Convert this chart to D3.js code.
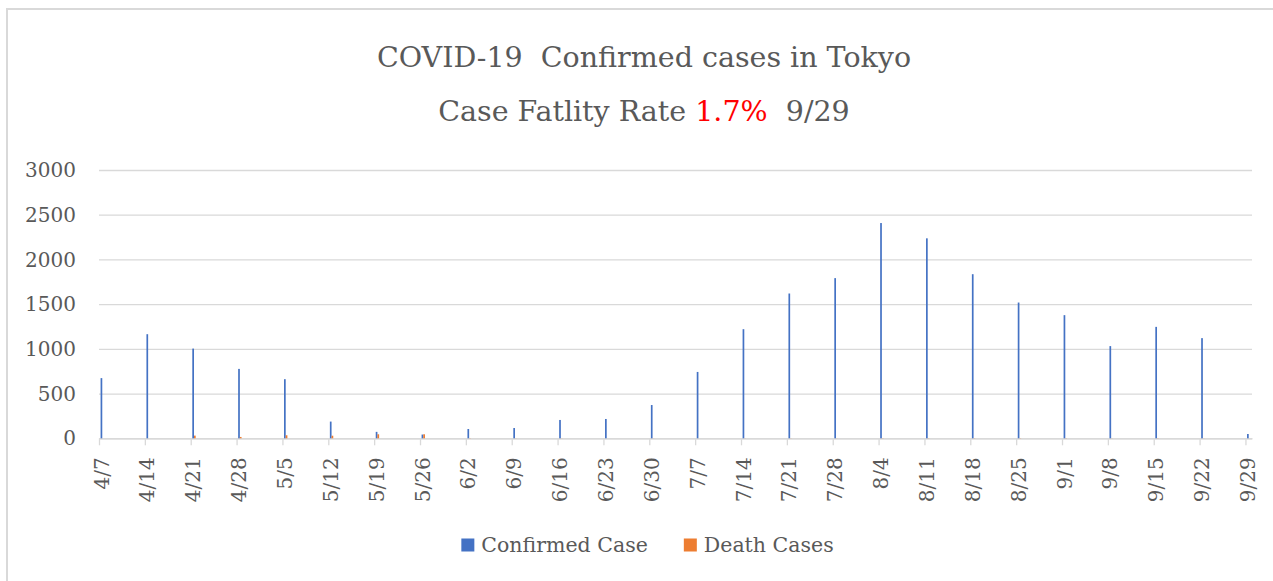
<!DOCTYPE html>
<html>
<head>
<meta charset="utf-8">
<script src="https://cdn.jsdelivr.net/npm/d3@7"></script>
<style>
  body { margin: 0; background: #fff; }
  text { font-family: "DejaVu Serif", "Liberation Serif", serif; fill: #595959; }
</style>
</head>
<body>
<svg id="chart" width="1273" height="581"></svg>
<script>
// weekly dates (2020)
var dates = ["4/7","4/14","4/21","4/28","5/5","5/12","5/19","5/26","6/2","6/9","6/16","6/23","6/30",
             "7/7","7/14","7/21","7/28","8/4","8/11","8/18","8/25","9/1","9/8","9/15","9/22","9/29"];
var confirmed = [673, 1164, 1003, 776, 661, 187, 72, 42, 104, 115, 205, 216, 372,
                 742, 1220, 1619, 1791, 2407, 2236, 1835, 1518, 1377, 1031, 1246, 1120, 48];
var deaths = [0, 0, 30, 15, 34, 29, 45, 45, 2, 1, 1, 0, 1,
              0, 1, 1, 1, 2, 2, 2, 2, 2, 1, 2, 1, 0];
var yTicks = [0, 500, 1000, 1500, 2000, 2500, 3000];
var seriesNames = ["Confirmed Case", "Death Cases"];
var colors = ["#4472C4", "#ED7D31"];

var svg = d3.select("#chart");

// outer frame
svg.append("rect")
    .attr("x", 7).attr("y", 9)
    .attr("width", 1300).attr("height", 600)
    .attr("fill", "none")
    .attr("stroke", "#d9d9d9")
    .attr("stroke-width", 2);

var margin = {top: 170, left: 99, right: 1252, bottom: 438.3};

function parseDay(s) {
    var p = s.split("/");
    return new Date(Date.UTC(2020, +p[0] - 1, +p[1]));
}
var days = dates.map(parseDay);
var endDay = d3.utcDay.offset(days[days.length - 1], 1);

// date axis, one slot per day
var x = d3.scaleUtc()
    .domain([days[0], endDay])
    .range([margin.left, margin.right]);

var y = d3.scaleLinear()
    .domain([0, 3000])
    .range([margin.bottom, margin.top]);

var dayW = x(d3.utcDay.offset(days[0], 1)) - x(days[0]);
var inner = d3.scaleBand()
    .domain([0, 1])
    .range([0, dayW])
    .paddingInner(0)
    .paddingOuter(0.93);

// gridlines + y labels
var yAxis = d3.axisLeft(y)
    .tickValues(yTicks)
    .tickSize(-(margin.right - margin.left))
    .tickPadding(23)
    .tickFormat(d3.format("d"));

var gy = svg.append("g")
    .attr("transform", "translate(" + margin.left + ",0)")
    .call(yAxis);
gy.select(".domain").remove();
gy.selectAll("line").attr("stroke", "#d9d9d9").attr("stroke-width", 1.3);
gy.selectAll("text")
    .style("font-family", "DejaVu Serif")
    .style("font-size", "20px")
    .attr("fill", "#595959")
    .attr("dy", "0.33em");

// x axis
var xAxis = d3.axisBottom(x)
    .tickValues(days)
    .tickSize(7)
    .tickSizeOuter(0)
    .tickFormat(function(d, i) { return dates[i]; });

var gx = svg.append("g")
    .attr("transform", "translate(0," + margin.bottom + ")")
    .call(xAxis);
gx.select(".domain").attr("stroke", "#d9d9d9").attr("stroke-width", 1.5);
gx.selectAll(".tick line").attr("stroke", "#d9d9d9").attr("stroke-width", 1.3);
gx.selectAll(".tick text")
    .style("font-family", "DejaVu Serif")
    .style("font-size", "20px")
    .attr("fill", "#595959")
    .attr("text-anchor", "end")
    .attr("transform", "translate(1,19) rotate(-90)")
    .attr("x", 0)
    .attr("y", 0)
    .attr("dy", "0.4em");

// bars
var groups = svg.append("g").selectAll("g")
    .data(days)
    .enter().append("g")
    .attr("transform", function(d) { return "translate(" + x(d) + ",0)"; });

[confirmed, deaths].forEach(function(series, s) {
    groups.append("rect")
        .attr("x", inner(s))
        .attr("width", inner.bandwidth())
        .attr("y", function(d, i) { return y(series[i]); })
        .attr("height", function(d, i) { return y(0) - y(series[i]); })
        .attr("fill", colors[s]);
});

// title
svg.append("text")
    .attr("x", 644).attr("y", 67)
    .attr("text-anchor", "middle")
    .style("font-size", "28.5px")
    .style("white-space", "pre")
    .text("COVID-19  Confirmed cases in Tokyo");

var t2 = svg.append("text")
    .attr("x", 644).attr("y", 121)
    .attr("text-anchor", "middle")
    .style("font-size", "28.5px")
    .style("white-space", "pre");
t2.append("tspan").text("Case Fatlity Rate ");
t2.append("tspan").attr("fill", "#FF0000").style("fill", "#FF0000").text("1.7%");
t2.append("tspan").text("  9/29");

// legend
var legend = svg.append("g");
var lx = 0;
seriesNames.forEach(function(name, i) {
    var item = legend.append("g").attr("transform", "translate(" + lx + ",0)");
    item.append("rect")
        .attr("x", 0).attr("y", -13)
        .attr("width", 13).attr("height", 13)
        .attr("fill", colors[i]);
    var t = item.append("text")
        .attr("x", 20).attr("y", 0)
        .style("font-size", "20.5px")
        .text(name);
    lx += 20 + t.node().getComputedTextLength() + 36;
});
var legendW = lx - 36;
legend.attr("transform", "translate(" + (647.5 - legendW / 2) + ",551.5)");
</script>
</body>
</html>
